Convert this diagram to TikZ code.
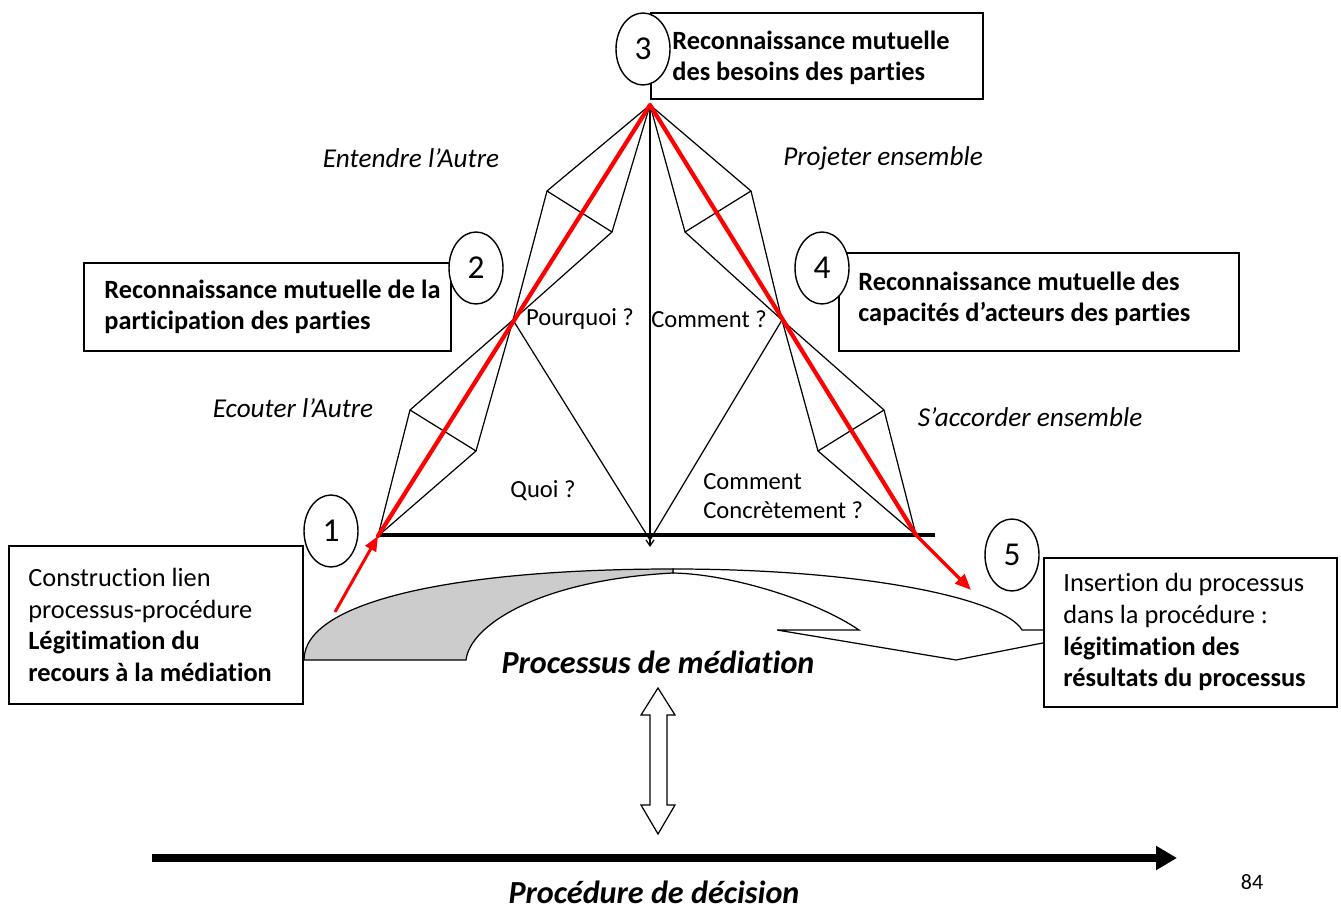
\documentclass[tikz,border=0pt]{standalone}
\usepackage{fontspec}
\setmainfont{Carlito}[Ligatures=NoCommon]
\usetikzlibrary{arrows.meta,positioning,shapes.geometric}
\tikzset{font=\fontsize{15pt}{18pt}\selectfont}
\tikzset{
  box/.style={draw,line width=0.9pt,fill=white,anchor=north west,inner sep=0pt},
  boxtext/.style={align=left,inner sep=0pt},
  num/.style={draw,ellipse,fill=white,line width=0.8pt,inner sep=0pt,
    minimum width=1.08cm,minimum height=1.44cm,font=\fontsize{19pt}{20pt}\selectfont},
  way/.style={font=\fontsize{15.5pt}{18pt}\selectfont\itshape},
  ask/.style={font=\fontsize{14pt}{16.5pt}\selectfont,align=left},
  edge/.style={line width=0.7pt},
  redpath/.style={red,line width=2.4pt,line cap=round,line join=round},
  title/.style={font=\fontsize{18.3pt}{20pt}\selectfont\bfseries\itshape,inner sep=0pt},
}

\begin{document}
\begin{tikzpicture}[x=0.02cm,y=-0.02cm]
  \useasboundingbox (0,0) rectangle (1341,911);
  \coordinate (apex) at (650,105);
  \coordinate (pone) at (378,536);
  \coordinate (ptwo) at (513,320);
  \coordinate (pfour) at (782,320);
  \coordinate (pfive) at (916,535);
  \coordinate (mid) at (650,547);
  \coordinate (baseleft) at (380,535);
  \coordinate (baseright) at (935,535);
  \coordinate (redin) at (335,612);
  \coordinate (redout) at (971,590);
  \draw[edge,fill=white] (673,569) .. controls (870,569) and (1005,600) .. (1022,630)
    -- (1109,630) -- (956,660) -- (777,630) -- (859,630)
    .. controls (815,600) and (730,574) .. (673,573) -- cycle;
  \draw[edge,fill=black!20] (304,660) .. controls (304,600) and (460,569) .. (673,569)
    -- (673,573) .. controls (540,580) and (470,625) .. (466,660) -- cycle;
  \draw[edge] (pone) -- (410,410) -- (ptwo) -- (476,451) -- cycle;
  \draw[edge] (410,410) -- (476,451);
  \draw[edge] (ptwo) -- (547,191) -- (apex) -- (612,232) -- cycle;
  \draw[edge] (547,191) -- (612,232);
  \draw[edge] (apex) -- (751,191) -- (pfour) -- (685,232) -- cycle;
  \draw[edge] (751,191) -- (685,232);
  \draw[edge] (pfour) -- (884,410) -- (pfive) -- (818,451) -- cycle;
  \draw[edge] (884,410) -- (818,451);
  \draw[edge] (ptwo) -- (650,540) -- (pfour);
  \draw[edge,-{Straight Barb[length=1.2mm,width=1.6mm]}] (apex) -- (mid);
  \draw[line width=2.3pt] (baseleft) -- (baseright);
  \draw[redpath] (pone) -- (apex) -- (pfive);
  \draw[red,line width=1.7pt,-{Triangle[length=0.3cm,width=0.24cm]}] (redin) -- (pone);
  \draw[red,line width=1.9pt,-{Triangle[length=0.32cm,width=0.26cm]}] (pfive) -- (redout);
  \node[box,minimum width=6.64cm,minimum height=1.72cm] (boxthree) at (650,12) {};
  \node[boxtext,font=\fontsize{15pt}{18pt}\selectfont\bfseries,right=0.44cm of boxthree.west,yshift=-0.04cm]
    (textthree) {Reconnaissance mutuelle\\des besoins des parties};
  \node[box,minimum width=7.34cm,minimum height=1.76cm] (boxtwo) at (83,262) {};
  \node[boxtext,font=\fontsize{15pt}{18pt}\selectfont\bfseries,right=0.42cm of boxtwo.west]
    (texttwo) {Reconnaissance mutuelle de la\\participation des parties};
  \node[box,minimum width=8cm,minimum height=1.96cm] (boxfour) at (838,252) {};
  \node[boxtext,font=\fontsize{15pt}{18pt}\selectfont\bfseries,right=0.4cm of boxfour.west,yshift=0.06cm]
    (textfour) {Reconnaissance mutuelle des\\capacités d’acteurs des parties};
  \node[box,minimum width=5.88cm,minimum height=3.16cm] (boxone) at (8,545) {};
  \node[boxtext,right=0.4cm of boxone.west] (textone)
    {Construction lien\\processus-procédure\\\textbf{Légitimation du}\\\textbf{recours à la médiation}};
  \node[box,minimum width=5.86cm,minimum height=2.98cm] (boxfive) at (1043,557) {};
  \node[boxtext,right=0.4cm of boxfive.west] (textfive)
    {Insertion du processus\\dans la procédure :\\\textbf{légitimation des}\\\textbf{résultats du processus}};
  \node[num] (cthree) at (643,49) {3};
  \node[num] (ctwo) at (476,268) {2};
  \node[num] (cfour) at (822,268) {4};
  \node[num] (cone) at (331,531) {1};
  \node[num] (cfive) at (1012,555) {5};
  \node[way] (entendre) at (411,158) {Entendre l’Autre};
  \node[way] (projeter) at (883,158) {Projeter ensemble};
  \node[way] (ecouter) at (293,408) {Ecouter l’Autre};
  \node[way] (accorder) at (1030,417) {S’accorder ensemble};
  \node[ask] (pourquoi) at (580,319) {Pourquoi ?};
  \node[ask] (comment) at (709,319) {Comment ?};
  \node[ask] (quoi) at (543,491) {Quoi ?};
  \node[ask,anchor=west,inner xsep=0pt] (concret) at (703,496) {Comment\\Concrètement ?};
  \node[title,anchor=base] (processus) at (658,673) {Processus de médiation};
  \coordinate (linktop) at (658,688);
  \draw[edge,fill=white] (linktop) -- ++(17,27) -- ++(-8,0) -- ++(0,90) -- ++(8,0)
    -- ++(-17,29) -- ++(-17,-29) -- ++(9,0) -- ++(0,-90) -- ++(-9,0) -- cycle;
  \coordinate (decstart) at (152,858);
  \coordinate (decend) at (1177,858);
  \draw[line width=4.5pt,-{Triangle[length=0.42cm,width=0.46cm]}] (decstart) -- (decend);
  \node[title,anchor=base] (procedure) at (654,903) {Procédure de décision};
  \node[font=\fontsize{12.5pt}{14pt}\selectfont] (page) at (1252,882) {84};
\end{tikzpicture}
\end{document}
